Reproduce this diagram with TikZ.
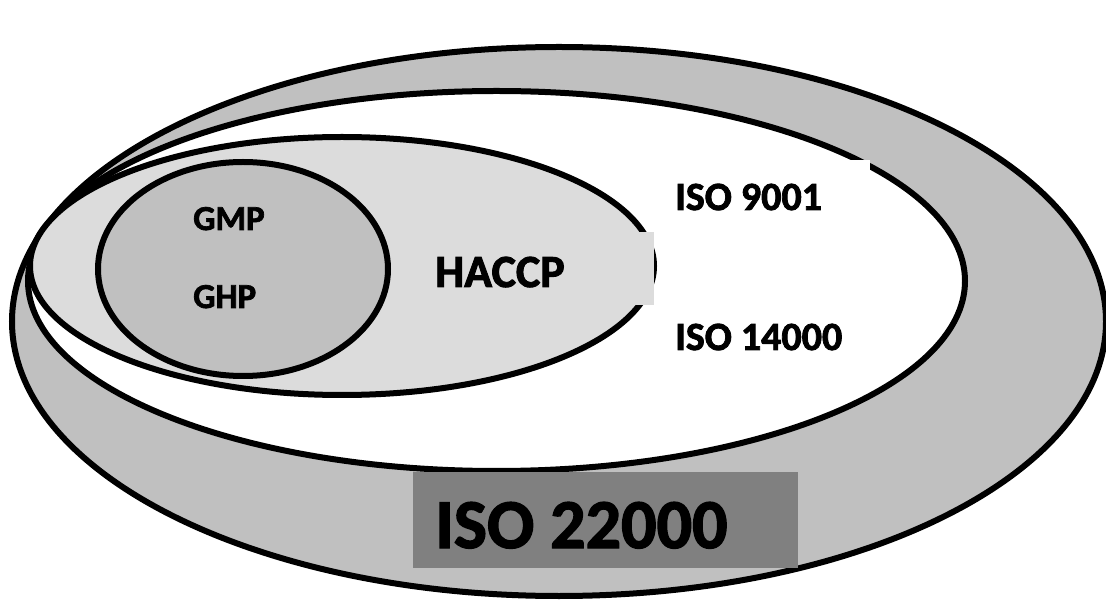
\documentclass[tikz,border=0pt]{standalone}
\usepackage{fontspec}
\setmainfont{Carlito}[BoldFeatures={FakeBold=2}]
\usetikzlibrary{shapes.geometric}
\definecolor{ringgray}{HTML}{C0C0C0}
\definecolor{lightgray}{HTML}{DCDCDC}
\definecolor{boxgray}{HTML}{808080}
\tikzset{
  zone/.style={ellipse, draw=black, line width=6pt, inner sep=0pt},
  label/.style={inner sep=0pt, anchor=base west, font=\bfseries},
  patch/.style={draw=none, inner sep=0pt, anchor=north west}
}
\begin{document}
\begin{tikzpicture}[x=1pt,y=-1pt]
\useasboundingbox (0,0) rectangle (1106,601);
% outer ring: ISO 22000
\node[zone, fill=ringgray, minimum width=1094pt, minimum height=549pt] (outer) at (559,321.5) {};
% quality and environment standards
\node[zone, fill=white, minimum width=937pt, minimum height=380pt] (iso) at (496.5,281) {};
\node[patch, fill=white, minimum width=215pt, minimum height=205pt] (isobox) at (655,160) {};
% HACCP
\node[zone, fill=lightgray, minimum width=624pt, minimum height=258pt] (haccp) at (342,266) {};
\node[patch, fill=lightgray, minimum width=234pt, minimum height=73pt] (haccpbox) at (420,232) {};
% prerequisite programmes
\node[zone, fill=ringgray, minimum width=290pt, minimum height=214pt] (prp) at (243,269) {};
% title box
\node[patch, fill=boxgray, minimum width=385pt, minimum height=96pt] (titlebox) at (413,472) {};
% texts
\node[label, font=\bfseries\fontsize{35}{40}\selectfont] (gmp) at (193,230) {GMP};
\node[label, font=\bfseries\fontsize{35}{40}\selectfont] (ghp) at (193,308) {GHP};
\node[label, font=\bfseries\fontsize{46}{52}\selectfont] (haccpt) at (435,287) {HACCP};
\node[label, font=\bfseries\fontsize{40}{45}\selectfont] (iso9) at (675,210) {ISO 9001};
\node[label, font=\bfseries\fontsize{40}{45}\selectfont] (iso14) at (675,350) {ISO 14000};
\node[label, font=\bfseries\fontsize{70}{80}\selectfont] (iso22) at (435,548) {ISO 22000};
\end{tikzpicture}
\end{document}
